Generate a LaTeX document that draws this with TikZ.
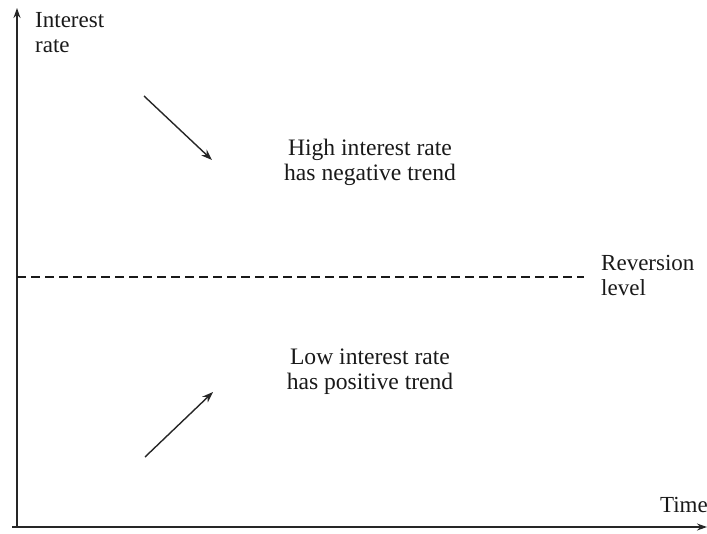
\documentclass[tikz,border=0pt]{standalone}
\usepackage{fontspec}
\setmainfont{Liberation Serif}
\usetikzlibrary{arrows.meta}
\tikzset{
  lbl/.style={inner sep=0pt, font=\fontsize{23}{24.5}\selectfont, text=black!90},
  clbl/.style={lbl, font=\fontsize{23.6}{24.5}\selectfont},
  axis/.style={line width=1.5pt, draw=black!85, -{Stealth[length=10pt,width=7pt]}},
  trend/.style={line width=1.4pt, draw=black!85, -{Stealth[length=11pt,width=8pt]}},
  rev/.style={line width=1.7pt, draw=black!90, dash pattern=on 9pt off 5pt}
}
\begin{document}
\begin{tikzpicture}[x=1pt,y=-1pt]
\useasboundingbox (0,0) rectangle (707,533);
\coordinate (O) at (17,527);
\coordinate (Ytop) at (17,8);
\coordinate (Xstart) at (12,527);
\coordinate (Xend) at (707,527);
\draw[axis] (O) -- (Ytop);
\draw[axis] (Xstart) -- (Xend);
\coordinate (R0) at (17,277);
\coordinate (R1) at (584,277);
\draw[rev] (R0) -- (R1);
\coordinate (A0) at (144,96);
\coordinate (A1) at (212,160);
\draw[trend] (A0) -- (A1);
\coordinate (B0) at (145,457);
\coordinate (B1) at (213,392);
\draw[trend] (B0) -- (B1);
\node[lbl, anchor=base west, align=left] (ylab) at (35,52) {Interest\\rate};
\node[lbl, anchor=base east] (xlab) at (708,512) {Time};
\node[lbl, anchor=base west, align=left] (revlab) at (601,295) {Reversion\\level};
\node[clbl, anchor=base, align=center] (high) at (370,180) {High interest rate\\has negative trend};
\node[clbl, anchor=base, align=center] (low) at (370,389) {Low interest rate\\has positive trend};
\end{tikzpicture}
\end{document}
